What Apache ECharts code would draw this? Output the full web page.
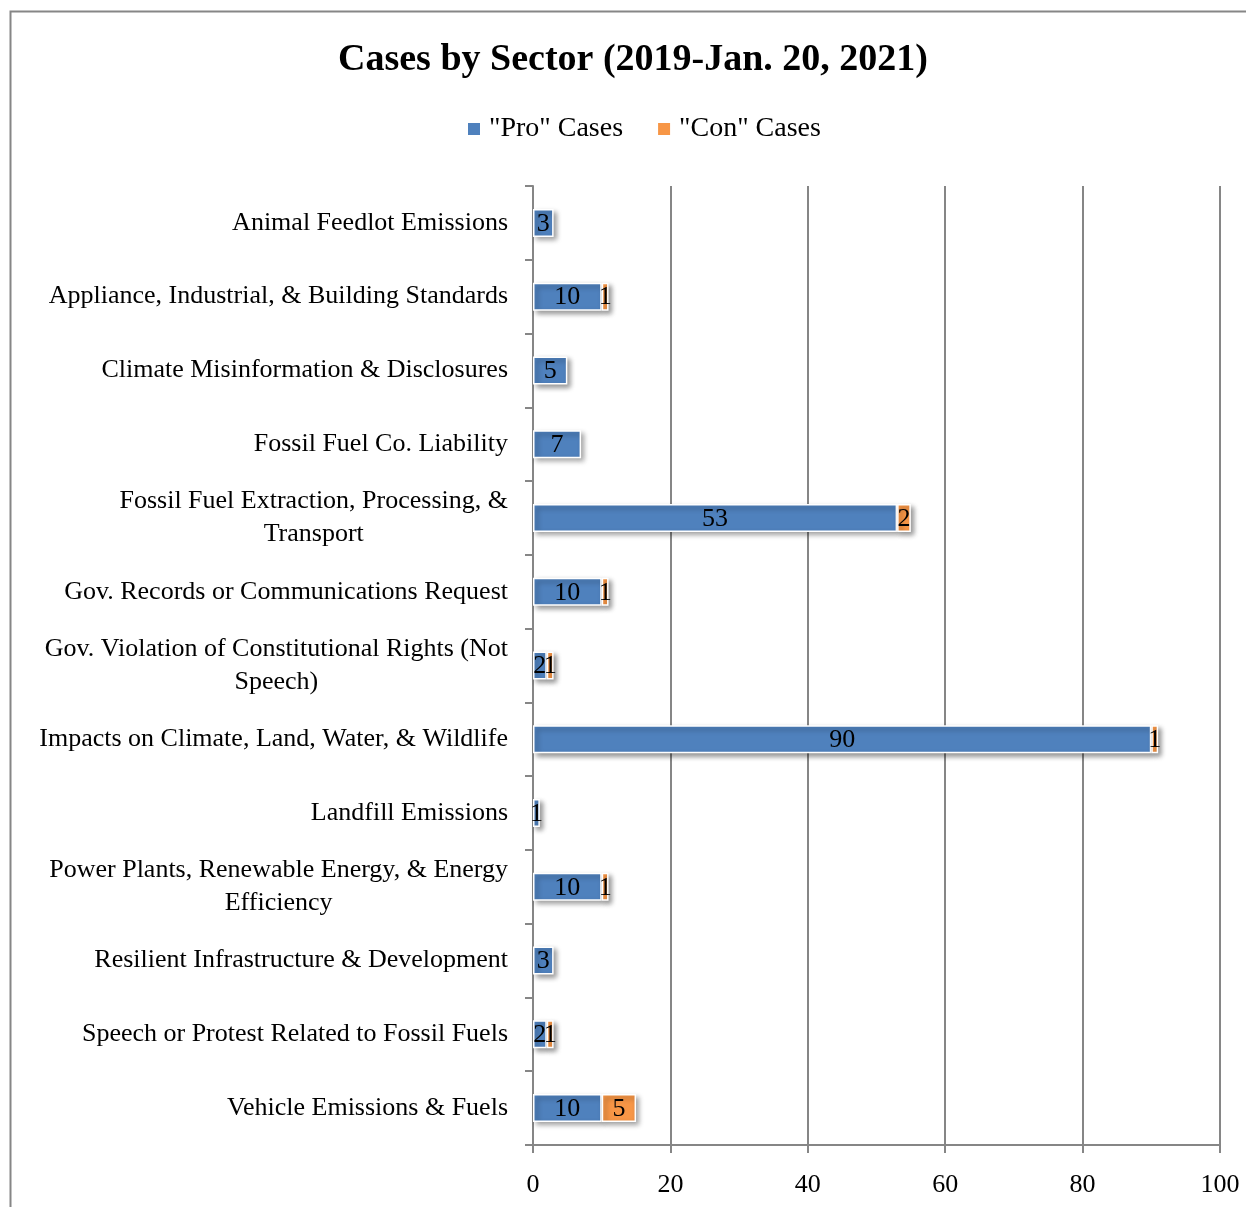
<!DOCTYPE html>
<html>
<head>
<meta charset="utf-8">
<script src="https://cdn.jsdelivr.net/npm/echarts@6/dist/echarts.min.js"></script>
<style>
html,body{margin:0;padding:0;background:#fff;}
#chart{width:1246px;height:1207px;}
</style>
</head>
<body>
<div id="chart"></div>
<script>
const categories = [
  "Animal Feedlot Emissions",
  "Appliance, Industrial, & Building Standards",
  "Climate Misinformation & Disclosures",
  "Fossil Fuel Co. Liability",
  "Fossil Fuel Extraction, Processing, & Transport",
  "Gov. Records or Communications Request",
  "Gov. Violation of Constitutional Rights (Not Speech)",
  "Impacts on Climate, Land, Water, & Wildlife",
  "Landfill Emissions",
  "Power Plants, Renewable Energy, & Energy Efficiency",
  "Resilient Infrastructure & Development",
  "Speech or Protest Related to Fossil Fuels",
  "Vehicle Emissions & Fuels"
];
const proCases = [3, 10, 5, 7, 53, 10, 2, 90, 1, 10, 3, 2, 10];
const conCases = [null, 1, null, null, 2, 1, 1, 1, null, 1, null, 1, 5];
const xTicks = [0, 20, 40, 60, 80, 100];

const FONT = '"Liberation Serif", "DejaVu Serif", serif';

function wrap(s, maxChars) {
  const words = s.split(' ');
  const lines = [];
  let cur = '';
  for (const w of words) {
    const t = cur ? cur + ' ' + w : w;
    if (t.length > maxChars && cur) { lines.push(cur); cur = w; }
    else cur = t;
  }
  if (cur) lines.push(cur);
  return lines;
}

const chart = echarts.init(document.getElementById('chart'), null, {renderer: 'canvas'});
const barStyle = (color) => ({
  color: color,
  borderColor: '#ffffff',
  borderWidth: 1.5,
  shadowColor: 'rgba(0,0,0,0.4)',
  shadowBlur: 5,
  shadowOffsetX: 3,
  shadowOffsetY: 3
});
const labelStyle = {
  show: true,
  position: 'inside',
  color: '#000',
  fontFamily: FONT,
  fontSize: 26,
  offset: [0, 1],
  formatter: p => (p.value == null ? '' : p.value)
};

chart.setOption({
  animation: false,
  backgroundColor: '#fff',
  textStyle: {fontFamily: FONT},
  graphic: [{
    type: 'rect',
    left: 8, top: 9,
    shape: {x: 0, y: 0, width: 1300, height: 1300},
    style: {fill: 'none', stroke: '#868686', lineWidth: 2},
    silent: true
  }],
  title: {
    text: 'Cases by Sector (2019-Jan. 20, 2021)',
    left: 628, top: 36, textAlign: 'center',
    textStyle: {fontFamily: FONT, fontSize: 38, fontWeight: 'bold', color: '#000'}
  },
  legend: {
    top: 110, left: 461,
    itemWidth: 14, itemHeight: 14, itemGap: 33,
    icon: 'rect',
    textStyle: {fontFamily: FONT, fontSize: 28, color: '#000', padding: [0, 0, 0, 3]},
    data: ['"Pro" Cases', '"Con" Cases']
  },
  grid: {left: 533, right: 26, top: 186, bottom: 62, containLabel: false},
  xAxis: {
    type: 'value', min: 0, max: 100, interval: 20,
    axisLine: {show: true, lineStyle: {color: '#868686', width: 2}},
    axisTick: {show: true, length: 8, lineStyle: {color: '#868686', width: 2}},
    splitLine: {show: true, lineStyle: {color: '#868686', width: 2}},
    axisLabel: {
      fontFamily: FONT, fontSize: 26, color: '#000', margin: 27,
      formatter: v => xTicks.includes(v) ? String(v) : ''
    }
  },
  yAxis: {
    type: 'category', inverse: true, data: categories,
    axisLine: {show: true, lineStyle: {color: '#868686', width: 2}},
    axisTick: {show: true, length: 8, lineStyle: {color: '#868686', width: 2}},
    axisLabel: {
      fontFamily: FONT, fontSize: 26, color: '#000', margin: 25, lineHeight: 33,
      formatter: v => wrap(v, 44).map(l => '{c|' + l + '}').join('\n'),
      rich: {c: {align: 'center', fontFamily: FONT, fontSize: 26, color: '#000', lineHeight: 33}}
    }
  },
  series: [
    {
      name: '"Pro" Cases', type: 'bar', stack: 'total', barWidth: 28,
      data: proCases, itemStyle: barStyle('#4F81BD'), label: labelStyle
    },
    {
      name: '"Con" Cases', type: 'bar', stack: 'total', barWidth: 28,
      data: conCases, itemStyle: barStyle('#F79646'), label: labelStyle
    }
  ]
});
</script>
</body>
</html>
